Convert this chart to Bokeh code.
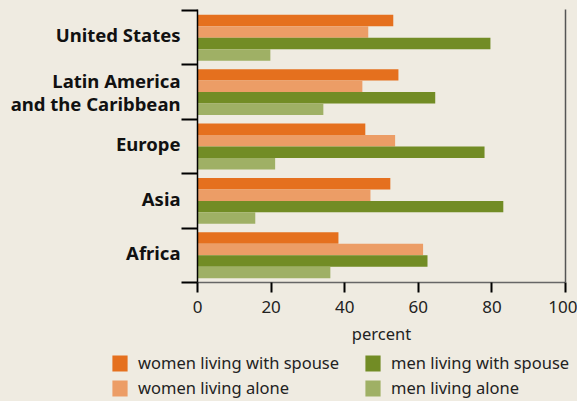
from bokeh.plotting import figure
from bokeh.layouts import column
from bokeh.models import (Range1d, FixedTicker, LinearAxis, Legend, LegendItem,
                          ColumnDataSource)
from bokeh.transform import dodge
from bokeh.embed import file_html
from bokeh.resources import INLINE

# ---- data ----
regions = ["United States", "Latin America\nand the Caribbean", "Europe", "Asia", "Africa"]
women_spouse = [53.2, 54.6, 45.6, 52.4, 38.3]
women_alone = [46.4, 44.8, 53.7, 47.0, 61.3]
men_spouse = [79.6, 64.6, 78.0, 83.1, 62.5]
men_alone = [19.8, 34.2, 21.1, 15.7, 36.1]
series_names = ["women living with spouse", "women living alone",
                "men living with spouse", "men living alone"]
x_ticks = [0, 20, 40, 60, 80, 100]

colors = ["#E5701E", "#EC9D66", "#728C25", "#9FB065"]
BG = "#EFEBE1"
FONT = "Noto Sans"

W = 577
H_MAIN = 352
H_LEG = 49

idx = list(range(len(regions)))
source = ColumnDataSource(dict(idx=idx, ws=women_spouse, wa=women_alone,
                               ms=men_spouse, ma=men_alone))

p = figure(width=W, height=H_MAIN, output_backend="svg", toolbar_location=None,
           x_range=Range1d(0, 100), y_range=Range1d(4.5, -0.518),
           min_border_left=197, min_border_right=12, min_border_top=9,
           min_border_bottom=70)
p.frame_align = False
p.background_fill_color = BG
p.border_fill_color = BG
p.outline_line_color = None
p.xgrid.visible = False
p.ygrid.visible = False

bar_h = 0.211
offsets = [-1.5 * bar_h, -0.5 * bar_h, 0.5 * bar_h, 1.5 * bar_h]
keys = ["ws", "wa", "ms", "ma"]
for k, off, c in zip(keys, offsets, colors):
    p.hbar(y=dodge("idx", off, range=p.y_range), left=0, right=k,
           height=bar_h, fill_color=c, line_color=None, source=source)

# x axis
xa = p.xaxis[0]
xa.ticker = FixedTicker(ticks=x_ticks)
xa.axis_label = "percent"
xa.axis_label_text_font = FONT
xa.axis_label_text_font_style = "normal"
xa.axis_label_text_font_size = "16.5px"
xa.axis_label_text_color = "#222222"
xa.axis_label_standoff = 6
xa.major_label_text_font = FONT
xa.major_label_text_font_size = "17px"
xa.major_label_text_color = "#222222"
xa.major_label_standoff = 8
xa.major_tick_out = 10
xa.major_tick_in = 0
xa.major_tick_line_width = 2
xa.major_tick_line_color = "black"
xa.minor_tick_line_color = None
xa.axis_line_color = "#666666"
xa.axis_line_width = 1.5

# y axis: labels at category centres, separator ticks between categories
label_shift = [-0.05, 0.0, -0.05, -0.05, -0.05]
label_pos = [i + s for i, s in zip(idx, label_shift)]
ya = p.yaxis[0]
ya.ticker = FixedTicker(ticks=label_pos,
                        minor_ticks=[i - 0.5 for i in range(len(regions) + 1)])
ya.major_label_overrides = {pos: name for pos, name in zip(label_pos, regions)}
ya.major_tick_out = 0
ya.major_tick_in = 0
ya.major_tick_line_color = None
ya.minor_tick_out = 16
ya.minor_tick_in = 0
ya.minor_tick_line_width = 2
ya.minor_tick_line_color = "black"
ya.axis_line_color = "black"
ya.axis_line_width = 1.5
ya.major_label_text_font = FONT
ya.major_label_text_font_style = "bold"
ya.major_label_text_font_size = "18.5px"
ya.major_label_text_line_height = 0.95
ya.major_label_text_color = "#111111"
ya.major_label_standoff = 1

# right border line
ra = LinearAxis(ticker=FixedTicker(ticks=[]), major_tick_line_color=None,
                minor_tick_line_color=None, major_label_text_font_size="0px",
                axis_line_color="#555555", axis_line_width=1.5)
p.add_layout(ra, "right")

# legend panel below the chart
p2 = figure(width=W, height=H_LEG, output_backend="svg", toolbar_location=None,
            x_range=Range1d(0, 1), y_range=Range1d(0, 1),
            x_axis_location=None, y_axis_location=None,
            min_border_left=0, min_border_right=0, min_border_top=0,
            min_border_bottom=0)
p2.frame_align = False
p2.background_fill_color = BG
p2.border_fill_color = BG
p2.outline_line_color = None
p2.xgrid.visible = False
p2.ygrid.visible = False
nan = float("nan")
leg_renderers = [p2.hbar(y=[nan], right=[nan], left=[nan], height=1,
                         fill_color=c, line_color=None) for c in colors]

legend = Legend(items=[LegendItem(label=n, renderers=[r]) for n, r in zip(series_names, leg_renderers)],
                location=(110, 2), orientation="vertical", ncols=2,
                glyph_width=19, glyph_height=20, label_standoff=9, label_width=223,
                label_height=20, spacing=2, padding=0, margin=0,
                border_line_color=None, background_fill_alpha=0,
                label_text_font=FONT, label_text_font_size="16.5px",
                label_text_color="#222222")
p2.add_layout(legend, "center")

layout = column(p, p2, spacing=0)

html = file_html(layout, INLINE)
html = html.replace("</head>", "<style>body{background:%s;}</style></head>" % BG, 1)
open("out.html", "w").write(html)
